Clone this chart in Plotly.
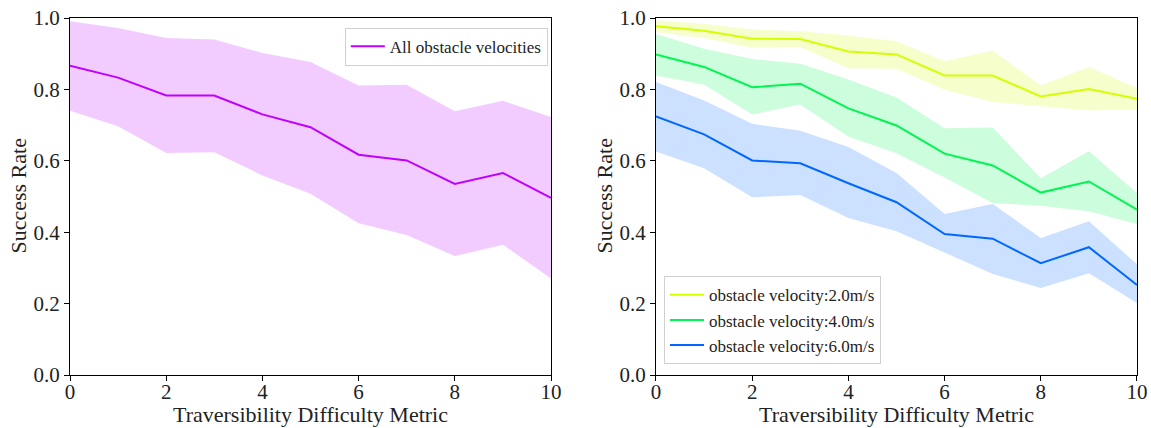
import plotly.graph_objects as go

# Difficulty levels on the x axis
difficulty = [0, 1, 2, 3, 4, 5, 6, 7, 8, 9, 10]

# All obstacle velocities pooled: mean success rate and band
all_mean = [0.866, 0.833, 0.783, 0.783, 0.730, 0.694, 0.617, 0.601, 0.535, 0.566, 0.496]
all_upper = [0.991, 0.972, 0.944, 0.940, 0.902, 0.877, 0.811, 0.813, 0.739, 0.768, 0.723]
all_lower = [0.740, 0.697, 0.622, 0.624, 0.559, 0.508, 0.425, 0.392, 0.333, 0.365, 0.270]

# Per obstacle velocity
v2_mean = [0.977, 0.964, 0.942, 0.941, 0.906, 0.898, 0.839, 0.839, 0.780, 0.801, 0.774]
v2_upper = [0.993, 0.984, 0.968, 0.963, 0.951, 0.935, 0.879, 0.909, 0.811, 0.863, 0.804]
v2_lower = [0.961, 0.944, 0.917, 0.919, 0.859, 0.858, 0.799, 0.765, 0.752, 0.741, 0.744]

v4_mean = [0.898, 0.863, 0.806, 0.816, 0.747, 0.699, 0.620, 0.587, 0.511, 0.542, 0.463]
v4_upper = [0.955, 0.914, 0.885, 0.872, 0.828, 0.777, 0.691, 0.693, 0.551, 0.627, 0.510]
v4_lower = [0.839, 0.814, 0.730, 0.758, 0.668, 0.621, 0.553, 0.482, 0.474, 0.459, 0.423]

v6_mean = [0.724, 0.674, 0.601, 0.593, 0.537, 0.484, 0.395, 0.382, 0.313, 0.358, 0.252]
v6_upper = [0.821, 0.769, 0.704, 0.684, 0.639, 0.566, 0.451, 0.479, 0.384, 0.431, 0.310]
v6_lower = [0.626, 0.579, 0.498, 0.504, 0.440, 0.403, 0.342, 0.283, 0.244, 0.285, 0.202]

series_names = ["obstacle velocity:2.0m/s", "obstacle velocity:4.0m/s", "obstacle velocity:6.0m/s"]
x_ticks = [0, 2, 4, 6, 8, 10]
y_ticks = [0.0, 0.2, 0.4, 0.6, 0.8, 1.0]
x_title = "Traversibility Difficulty Metric"
y_title = "Success Rate"

FONT = "Liberation Serif"
TEXT = "#222"
PURPLE = "#c000ff"
COLORS = ["#d4ff00", "#00f550", "#0068ff"]

LEFT_DOM = [0, 0.4508]
RIGHT_DOM = [0.5492, 1.0]


def rgba(hex_color, a):
    h = hex_color.lstrip("#")
    r, g, b = int(h[0:2], 16), int(h[2:4], 16), int(h[4:6], 16)
    return f"rgba({r},{g},{b},{a})"


def band(x, lo, hi, color, xa, ya):
    return go.Scatter(
        x=list(x) + list(x)[::-1],
        y=list(hi) + list(lo)[::-1],
        fill="toself",
        fillcolor=rgba(color, 0.2),
        line=dict(width=0),
        mode="lines",
        hoverinfo="skip",
        showlegend=False,
        xaxis=xa, yaxis=ya,
    )


fig = go.Figure()

# Left panel
fig.add_trace(band(difficulty, all_lower, all_upper, PURPLE, "x", "y"))
fig.add_trace(go.Scatter(
    x=difficulty, y=all_mean, mode="lines", name="All obstacle velocities",
    line=dict(color=PURPLE, width=2), xaxis="x", yaxis="y", legend="legend",
))

# Right panel
bands = [(v2_lower, v2_upper), (v4_lower, v4_upper), (v6_lower, v6_upper)]
means = [v2_mean, v4_mean, v6_mean]
for (lo, hi), c in zip(bands, COLORS):
    fig.add_trace(band(difficulty, lo, hi, c, "x2", "y2"))
for m, c, n in zip(means, COLORS, series_names):
    fig.add_trace(go.Scatter(
        x=difficulty, y=m, mode="lines", name=n,
        line=dict(color=c, width=2), xaxis="x2", yaxis="y2", legend="legend2",
    ))

axis_common = dict(
    showline=True, linecolor="black", linewidth=1.2, mirror=True,
    ticks="outside", ticklen=5, tickwidth=1.2, tickcolor="black",
    showgrid=False, zeroline=False, automargin=False,
    tickfont=dict(family=FONT, size=21, color=TEXT),
)

xa = dict(axis_common, range=[0, 10], tickvals=x_ticks, ticklabelstandoff=-7)
ya = dict(axis_common, range=[0, 1], tickvals=y_ticks, tickformat=".1f")

# Axis titles as annotations
annotations = []
for dom in (LEFT_DOM, RIGHT_DOM):
    annotations.append(dict(
        text=x_title, xref="paper", yref="paper",
        x=(dom[0] + dom[1]) / 2, y=-0.111, xanchor="center", yanchor="middle",
        showarrow=False, font=dict(family=FONT, size=22, color=TEXT),
    ))
for dom in (LEFT_DOM, RIGHT_DOM):
    annotations.append(dict(
        text=y_title, xref="paper", yref="paper",
        x=dom[0] - 0.0487, y=0.5, xanchor="center", yanchor="middle", textangle=-90,
        showarrow=False, font=dict(family=FONT, size=22, color=TEXT),
    ))

fig.update_layout(
    width=1151, height=428,
    margin=dict(l=70, r=14, t=18, b=53, autoexpand=False),
    paper_bgcolor="white", plot_bgcolor="white",
    xaxis=dict(xa, domain=LEFT_DOM, anchor="y"),
    yaxis=dict(ya, domain=[0, 1], anchor="x"),
    xaxis2=dict(xa, domain=RIGHT_DOM, anchor="y2"),
    yaxis2=dict(ya, domain=[0, 1], anchor="x2"),
    annotations=annotations,
    legend=dict(
        x=0.4478, y=0.973, xanchor="right", yanchor="top",
        bgcolor="white", bordercolor="#d0d0d0", borderwidth=1,
        font=dict(family=FONT, size=17, color=TEXT),
        itemwidth=34, tracegroupgap=0,
    ),
    legend2=dict(
        x=0.5567, y=0.03, xanchor="left", yanchor="bottom",
        bgcolor="white", bordercolor="#d0d0d0", borderwidth=1,
        font=dict(family=FONT, size=17, color=TEXT),
        itemwidth=34, tracegroupgap=0,
    ),
)

fig.write_html("out.html")
